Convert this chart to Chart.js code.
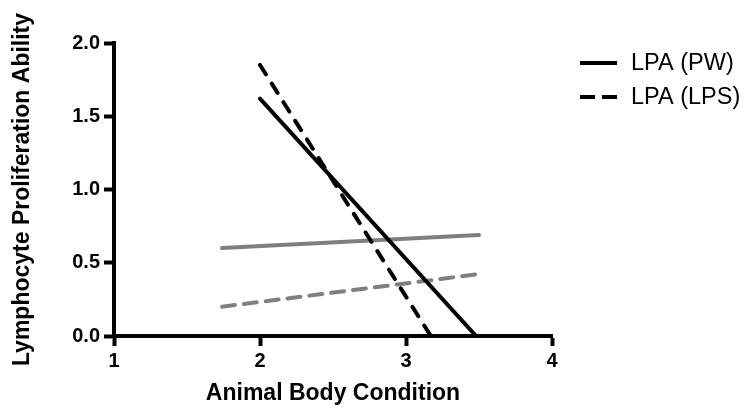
<!DOCTYPE html>
<html>
<head>
<meta charset="utf-8">
<title>LPA vs body condition</title>
<script src="https://cdn.jsdelivr.net/npm/chart.js"></script>
<style>
    body { margin: 0; background: #fff; }
    #wrap { width: 747px; height: 408px; }
</style>
</head>
<body>
<div id="wrap"><canvas id="chart" width="747" height="408"></canvas></div>
<script>
// values
const legendLabels = ['LPA (PW)', 'LPA (LPS)'];
const xTicks = [1, 2, 3, 4];
const yTicks = [0, 0.5, 1.0, 1.5, 2.0];

const pwX = [2.0, 3.48];
const pwY = [1.62, 0.0];
const lpsX = [2.0, 3.17];
const lpsY = [1.85, 0.0];
const pwGreyX = [1.74, 3.5];
const pwGreyY = [0.60, 0.69];
const lpsGreyX = [1.74, 3.48];
const lpsGreyY = [0.20, 0.42];

const FONT = '"Liberation Sans", Arial, sans-serif';

function pts(xs, ys) {
    return xs.map((x, i) => ({ x: x, y: ys[i] }));
}

function line(label, xs, ys, color, dash) {
    return {
        label: label,
        data: pts(xs, ys),
        borderColor: color,
        borderWidth: 4,
        borderCapStyle: 'round',
        borderDash: dash,
        pointRadius: 0,
        fill: false,
        tension: 0
    };
}

// small legend drawn at the top right, outside the plot area
const sideLegend = {
    id: 'sideLegend',
    afterDraw(chart) {
        const ctx = chart.ctx;
        ctx.save();
        ctx.font = '23.5px ' + FONT;
        ctx.fillStyle = '#000';
        ctx.strokeStyle = '#000';
        ctx.lineWidth = 4;
        ctx.textBaseline = 'middle';
        legendLabels.forEach((txt, i) => {
            const y = 63 + i * 34;
            ctx.setLineDash(i === 0 ? [] : [15, 7]);
            ctx.beginPath();
            ctx.moveTo(580, y);
            ctx.lineTo(617, y);
            ctx.stroke();
            ctx.setLineDash([]);
            ctx.fillText(txt, 631, y + 1);
        });
        ctx.restore();
    }
};

function axisGrid() {
    return {
        display: true,
        drawOnChartArea: false,
        drawTicks: true,
        tickLength: 10,
        tickWidth: 4,
        tickColor: '#000'
    };
}

new Chart(document.getElementById('chart'), {
    type: 'line',
    data: {
        datasets: [
            line(legendLabels[0], pwX, pwY, '#000', []),
            line(legendLabels[1], lpsX, lpsY, '#000', [11, 11]),
            line('', pwGreyX, pwGreyY, '#7f7f7f', []),
            line('', lpsGreyX, lpsGreyY, '#7f7f7f', [13, 9])
        ]
    },
    options: {
        responsive: false,
        animation: false,
        devicePixelRatio: 1,
        layout: { padding: { left: 0, top: 43, right: 195, bottom: 0 } },
        plugins: {
            legend: { display: false },
            tooltip: { enabled: false }
        },
        scales: {
            x: {
                type: 'linear',
                min: xTicks[0],
                max: xTicks[xTicks.length - 1],
                afterBuildTicks: s => { s.ticks = xTicks.map(v => ({ value: v })); },
                afterFit: s => { s.height = 408 - 336; },
                grid: axisGrid(),
                border: { display: true, width: 4, color: '#000' },
                ticks: {
                    color: '#000',
                    padding: 3,
                    font: { family: FONT, size: 20, weight: 'bold' },
                    callback: v => String(v)
                },
                title: {
                    display: true,
                    text: 'Animal Body Condition',
                    color: '#000',
                    font: { family: FONT, size: 23, weight: 'bold' },
                    padding: { top: 0, bottom: 1 }
                }
            },
            y: {
                min: yTicks[0],
                max: yTicks[yTicks.length - 1],
                afterBuildTicks: s => { s.ticks = yTicks.map(v => ({ value: v })); },
                afterFit: s => { s.width = 114; },
                grid: axisGrid(),
                border: { display: true, width: 4, color: '#000' },
                ticks: {
                    color: '#000',
                    padding: 4,
                    font: { family: FONT, size: 20, weight: 'bold' },
                    callback: v => v.toFixed(1)
                },
                title: {
                    display: true,
                    text: 'Lymphocyte Proliferation Ability',
                    color: '#000',
                    font: { family: FONT, size: 23, weight: 'bold' },
                    padding: { top: 9, bottom: 0 }
                }
            }
        }
    },
    plugins: [sideLegend]
});
</script>
</body>
</html>
